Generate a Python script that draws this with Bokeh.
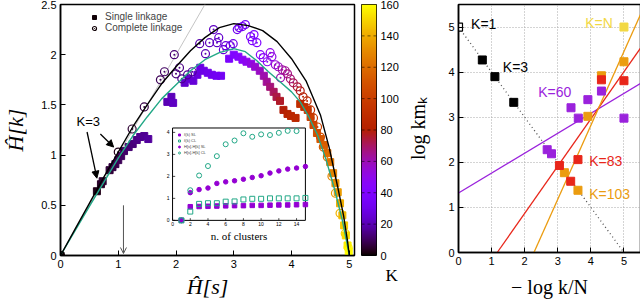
import math
import numpy as np
from bokeh.plotting import figure
from bokeh.layouts import row
from bokeh.models import (ColumnDataSource, LinearColorMapper, FixedTicker, Range1d, Label,
                          Arrow, NormalHead, OpenHead, Legend, NumeralTickFormatter, Title)
from bokeh.core.properties import value
from bokeh.transform import transform
from bokeh.embed import file_html
from bokeh.resources import INLINE

# ---------------- main panel data ----------------
# single linkage (filled squares): H[s], H[k], K
sl_hs = [0.00, 0.63, 0.70, 0.73, 0.85, 0.90, 0.95, 1.00, 1.05, 1.10, 1.18, 1.25, 1.32, 1.38,
         1.45, 1.52, 1.85, 1.92, 1.95, 2.15, 2.22, 2.30, 2.37, 2.42, 2.48, 2.55, 2.62, 2.70,
         2.78, 2.92, 3.00, 3.08, 3.15, 3.22, 3.30, 3.37, 3.45, 3.52, 3.57, 3.63, 3.69, 3.74,
         3.80, 3.86, 3.93, 3.99, 4.07, 4.15, 4.22, 4.28, 4.33, 4.38, 4.44, 4.50, 4.56, 4.62,
         4.67, 4.72, 4.76, 4.80, 4.84, 4.88, 4.91, 4.94, 4.97, 4.99]
sl_hk = [0.00, 0.64, 0.71, 0.74, 0.85, 0.88, 0.91, 0.95, 0.99, 1.04, 1.08, 1.11, 1.15, 1.18,
         1.19, 1.16, 1.53, 1.58, 1.52, 1.72, 1.76, 1.74, 1.80, 1.87, 1.84, 1.82, 1.80, 1.79,
         1.79, 1.96, 2.00, 1.98, 1.95, 1.93, 1.91, 1.88, 1.84, 1.79, 1.73, 1.68, 1.63, 1.58,
         1.54, 1.45, 1.41, 1.39, 1.37, 1.51, 1.48, 1.45, 1.38, 1.30, 1.22, 1.16, 1.10, 1.02,
         0.93, 0.82, 0.72, 0.63, 0.52, 0.40, 0.30, 0.20, 0.10, 0.04]
sl_K = [1, 3, 4, 5, 6, 7, 8, 9, 10, 11, 12, 13, 14, 15,
        16, 17, 20, 21, 22, 24, 25, 26, 27, 28, 29, 30, 31, 32,
        33, 38, 40, 43, 46, 49, 52, 55, 58, 61, 64, 67, 70, 73,
        76, 79, 82, 85, 87, 90, 93, 96, 100, 104, 108, 112, 116, 120,
        124, 128, 132, 136, 140, 144, 148, 152, 156, 159]

# complete linkage (open circles)
cl_hs = [0.00, 1.00, 1.24, 1.45, 1.73, 1.80, 1.97, 2.00, 2.06, 2.10, 2.20, 2.28, 2.41, 2.51,
         2.58, 2.65, 2.71, 2.74, 2.82, 2.86, 2.94, 2.99, 3.06, 3.09, 3.15, 3.20, 3.29, 3.32,
         3.35, 3.40, 3.46, 3.51, 3.58, 3.63, 3.66, 3.72, 3.77, 3.81, 3.84, 3.89, 3.93, 3.98,
         4.03, 4.10, 4.15, 4.20, 4.27, 4.33, 4.38, 4.45, 4.50, 4.55, 4.62, 4.70, 4.76, 4.84,
         4.93, 4.98]
cl_hk = [0.00, 1.03, 1.26, 1.48, 1.75, 1.83, 2.00, 1.81, 1.87, 1.76, 1.80, 1.83, 2.11, 2.01,
         2.12, 2.25, 2.12, 2.17, 2.05, 2.09, 2.09, 2.11, 2.25, 2.27, 2.28, 2.30, 2.18, 2.14,
         2.20, 2.12, 2.00, 1.97, 1.93, 2.02, 1.98, 1.90, 1.88, 1.77, 1.85, 1.84, 1.81, 1.76,
         1.72, 1.68, 1.64, 1.58, 1.54, 1.45, 1.37, 1.28, 1.18, 1.08, 0.98, 0.79, 0.62, 0.42,
         0.22, 0.08]
cl_K = [1, 3, 5, 7, 9, 10, 12, 13, 14, 15, 16, 17, 19, 20,
        21, 22, 23, 24, 26, 27, 28, 29, 31, 32, 33, 34, 36, 37,
        38, 40, 44, 46, 48, 50, 52, 55, 58, 60, 62, 64, 66, 68,
        71, 74, 78, 82, 86, 92, 97, 103, 108, 113, 120, 128, 135, 142,
        150, 157]

# upper (black) and lower (teal) curves
upper_hs = [0.00, 0.25, 0.50, 0.75, 1.00, 1.25, 1.50, 1.75, 2.00, 2.25, 2.50, 2.75, 3.00,
            3.25, 3.50, 3.75, 4.00, 4.25, 4.50, 4.65, 4.80, 4.90, 4.97, 5.00]
upper_hk = [0.00, 0.26, 0.52, 0.78, 1.03, 1.28, 1.50, 1.71, 1.88, 2.04, 2.17, 2.27, 2.31,
            2.29, 2.24, 2.13, 1.96, 1.74, 1.40, 1.08, 0.68, 0.40, 0.14, 0.00]
lower_hs = [0.00, 0.50, 1.00, 1.25, 1.50, 1.75, 2.00, 2.25, 2.50, 2.75, 3.00, 3.20, 3.40,
            3.60, 3.80, 4.00, 4.15, 4.30, 4.45, 4.60, 4.75, 4.88, 4.96, 5.00]
lower_hk = [0.00, 0.49, 0.97, 1.19, 1.38, 1.56, 1.70, 1.84, 1.95, 2.02, 2.06, 2.03, 1.94,
            1.83, 1.73, 1.63, 1.53, 1.38, 1.20, 0.95, 0.65, 0.35, 0.12, 0.00]
diag_hs = [0.0, 2.5]
diag_hk = [0.0, 2.5]

main_xticks = [0, 1, 2, 3, 4, 5]
main_yticks = [0, 0.5, 1, 1.5, 2, 2.5]
cbar_ticks = [0, 20, 40, 60, 80, 100, 120, 140, 160]

# ---------------- inset data ----------------
n_clusters = [1, 2, 3, 4, 5, 6, 7, 8, 9, 10, 11, 12, 13, 14, 15]
ell_sl = [0.00, 0.62, 0.63, 0.64, 0.65, 0.66, 0.67, 0.67, 0.68, 0.68, 0.69, 0.70, 0.70, 0.71, 0.72]
ell_cl = [0.00, 0.40, 0.75, 0.78, 0.78, 0.85, 0.86, 0.95, 0.98, 0.98, 1.00, 1.00, 1.00, 1.00, 1.02]
dh_sl = [0.00, 1.26, 1.40, 1.47, 1.68, 1.75, 1.80, 1.87, 1.95, 2.03, 2.15, 2.25, 2.33, 2.38, 2.45]
dh_cl = [0.00, 1.37, 2.04, 2.47, 2.92, 3.46, 3.63, 3.96, 3.80, 3.91, 3.88, 3.98, 4.07, 4.06]
inset_xticks = [0, 2, 4, 6, 8, 10, 12, 14]
inset_yticks = [0, 1, 2, 3, 4]

# ---------------- right panel data ----------------
k1_x = [0.0]
k1_y = [5.0]
black_x = [0.72, 1.10, 1.67]
black_y = [4.27, 3.90, 3.33]
purple_x = [2.68, 2.81, 3.40, 3.62, 3.91, 4.32, 5.00]
purple_y = [2.28, 2.19, 3.21, 2.98, 3.39, 3.58, 2.98]
orange_x = [3.20, 3.61, 3.91, 4.32, 5.00]
orange_y = [1.77, 1.38, 3.02, 3.92, 4.23]
red_x = [3.05, 3.39, 3.61, 4.32, 5.00]
red_y = [1.93, 1.58, 2.06, 3.83, 3.81]
yellow_x = [5.00]
yellow_y = [5.00]
guide_x = [0.0, 5.0]
guide_y = [5.0, 0.0]
fit60_x = [0.0, 5.5]
fit60_y = [1.32, 3.75]
fit83_x = [1.17, 5.5]
fit83_y = [0.0, 4.53]
fit103_x = [2.28, 5.5]
fit103_y = [0.0, 5.28]
right_ticks = [0, 1, 2, 3, 4, 5]


def rgbformulae_7_5_15(n=256):
    cols = []
    for i in range(n):
        t = i / (n - 1)
        r = math.sqrt(t)
        g = t ** 3
        b = max(0.0, math.sin(2 * math.pi * t))
        cols.append("#%02x%02x%02x" % (round(255 * r), round(255 * g), round(255 * b)))
    return cols


PAL = rgbformulae_7_5_15()
mapper = LinearColorMapper(palette=PAL, low=cbar_ticks[0], high=cbar_ticks[-1])

SANS = "Liberation Sans"
SERIF = "Liberation Serif"
TEAL = "#22a887"
VIOLET = "#9400d3"
C_PURPLE = "#9a22dc"
C_RED = "#e8261a"
C_ORANGE = "#eb9c10"
C_YELLOW = "#f2d844"


def style_axes(fig):
    fig.xgrid.visible = False
    fig.ygrid.visible = False
    fig.outline_line_color = "black"
    fig.outline_line_width = 1.5
    for ax in (fig.xaxis[0], fig.yaxis[0]):
        ax.axis_line_color = "black"
        ax.axis_line_width = 1.5
        ax.major_tick_in = 5
        ax.major_tick_out = 0
        ax.major_tick_line_color = "black"
        ax.minor_tick_line_color = None
        ax.major_label_text_font = SANS
        ax.major_label_text_font_size = "11px"
        ax.major_label_text_color = "black"
        ax.major_label_standoff = 4
        ax.axis_label_text_font = SERIF
        ax.axis_label_text_font_size = "20px"
        ax.axis_label_text_color = "black"
        ax.axis_label_text_font_style = "normal"


# ================= main figure =================
XMAX = 5.09
YMAX = 2.5
p = figure(frame_width=294, frame_height=251, x_range=Range1d(0, XMAX), y_range=Range1d(0, YMAX),
           output_backend="svg", toolbar_location=None,
           min_border_left=60, min_border_right=2, min_border_top=4, min_border_bottom=48)
style_axes(p)
p.xaxis.ticker = FixedTicker(ticks=main_xticks)
p.yaxis.ticker = FixedTicker(ticks=main_yticks)
p.yaxis.formatter = NumeralTickFormatter(format="0.[0]")
p.yaxis.axis_label = "Ĥ[k]"
p.yaxis.axis_label_text_font_style = "italic"
p.yaxis.axis_label_text_font_size = "22px"
p.yaxis.axis_label_standoff = 10
p.add_layout(Title(text="Ĥ[s]", align="center", offset=24, text_font=SERIF,
                   text_font_style="italic", text_font_size="22px", text_color="black",
                   standoff=2), "below")

p.line(diag_hs, diag_hk, line_color="#c4c4c4", line_width=1)

sl_src = ColumnDataSource(dict(x=sl_hs, y=sl_hk, K=sl_K))
cl_src = ColumnDataSource(dict(x=cl_hs, y=cl_hk, K=cl_K))
sl_r = p.scatter("x", "y", source=sl_src, marker="square", size=7,
                 fill_color=transform("K", mapper), line_color=transform("K", mapper))
cl_r = p.scatter("x", "y", source=cl_src, marker="circle_dot", size=8, fill_color=None,
                 line_color=transform("K", mapper), line_width=1.2)

p.line(lower_hs, lower_hk, line_color=TEAL, line_width=1.4)
p.line(upper_hs, upper_hk, line_color="black", line_width=1.4)

# annotations
p.add_layout(Label(x=0.48, y=1.33, text="K=3", text_font=SANS, text_font_size="13px",
                   text_align="center", text_baseline="middle", text_color="black"))
p.add_layout(Arrow(end=NormalHead(size=7, fill_color="black", line_color="black"),
                   x_start=0.46, y_start=1.23, x_end=0.63, y_end=0.77, line_width=1.3))
p.add_layout(Arrow(end=NormalHead(size=7, fill_color="black", line_color="black"),
                   x_start=0.69, y_start=1.21, x_end=0.92, y_end=1.08, line_width=1.3))
p.add_layout(Arrow(end=OpenHead(size=6, line_color="#555555", line_width=1),
                   x_start=1.09, y_start=0.5, x_end=1.09, y_end=0.02,
                   line_color="#555555", line_width=1))

main_leg = Legend(items=[("Single linkage", [sl_r]), ("Complete linkage", [cl_r])],
                  location=(28, 222), label_text_font=SANS, label_text_font_size="10px",
                  label_height=10, glyph_height=10, glyph_width=12, spacing=0, padding=2,
                  margin=0, border_line_color=None, background_fill_alpha=0)
p.add_layout(main_leg)

# ---- inset, drawn through its own ranges ----
IN_X0, IN_X1 = 0.0, 15.0
IN_Y0, IN_Y1 = 0.0, 4.2
BOX_L, BOX_R, BOX_B, BOX_T = 1.94, 4.24, 0.35, 1.27   # placement in main-panel units
sx = (IN_X1 - IN_X0) / (BOX_R - BOX_L)
sy = (IN_Y1 - IN_Y0) / (BOX_T - BOX_B)
p.extra_x_ranges = {"ix": Range1d(IN_X0 - BOX_L * sx, IN_X0 + (XMAX - BOX_L) * sx)}
p.extra_y_ranges = {"iy": Range1d(IN_Y0 - BOX_B * sy, IN_Y0 + (YMAX - BOX_B) * sy)}
IR = dict(x_range_name="ix", y_range_name="iy")

p.quad(left=[IN_X0 - 1.1], right=[IN_X1 + 0.3], bottom=[IN_Y0 - 1.25], top=[IN_Y1 + 0.15],
       fill_color="white", line_color=None, **IR)
p.quad(left=[IN_X0], right=[IN_X1], bottom=[IN_Y0], top=[IN_Y1], fill_color=None,
       line_color="black", line_width=1, **IR)
p.segment(x0=inset_xticks, y0=[IN_Y0] * len(inset_xticks), x1=inset_xticks,
          y1=[IN_Y0 + 0.1] * len(inset_xticks), line_color="black", line_width=0.7, **IR)
p.segment(x0=[IN_X0] * len(inset_yticks), y0=inset_yticks, x1=[IN_X0 + 0.3] * len(inset_yticks),
          y1=inset_yticks, line_color="black", line_width=0.7, **IR)
p.text(x=inset_xticks, y=[IN_Y0 - 0.08] * len(inset_xticks), text=[str(t) for t in inset_xticks],
       text_font=value(SANS), text_font_size="5px", text_align="center", text_baseline="top",
       text_color="black", **IR)
p.text(x=[IN_X0 - 0.35] * len(inset_yticks), y=inset_yticks, text=[str(t) for t in inset_yticks],
       text_font=value(SANS), text_font_size="5px", text_align="right", text_baseline="middle",
       text_color="black", **IR)
p.add_layout(Label(x=7.5, y=-0.42, text="n. of clusters", text_font=SERIF, text_font_size="11px",
                   text_align="center", text_baseline="top", text_color="black", **IR))

r_ell_sl = p.scatter(n_clusters, ell_sl, marker="square", size=4.5, fill_color=VIOLET,
                     line_color=VIOLET, **IR)
r_ell_cl = p.scatter(n_clusters, ell_cl, marker="square", size=5, fill_color=None,
                     line_color=TEAL, line_width=1, **IR)
r_dh_sl = p.scatter(n_clusters, dh_sl, marker="circle", size=4.5, fill_color=VIOLET,
                    line_color=VIOLET, **IR)
r_dh_cl = p.scatter(n_clusters[:len(dh_cl)], dh_cl, marker="circle", size=5, fill_color=None,
                    line_color=TEAL, line_width=1, **IR)
inset_leg = Legend(items=[("ℓ(k) SL", [r_ell_sl]), ("ℓ(k) CL", [r_ell_cl]),
                          ("H[s]-H[k] SL", [r_dh_sl]), ("H[s]-H[k] CL", [r_dh_cl])],
                   location=(116, 100), label_text_font=SANS, label_text_font_size="4px",
                   label_height=5, glyph_height=5, glyph_width=6, spacing=1, padding=1,
                   margin=0, label_standoff=2, border_line_color=None, background_fill_alpha=0)
p.add_layout(inset_leg)

# ================= colour bar (own small figure) =================
c = figure(frame_width=15, frame_height=251, x_range=Range1d(0, 1),
           y_range=Range1d(cbar_ticks[0], cbar_ticks[-1]), x_axis_location=None,
           y_axis_location="right", output_backend="svg", toolbar_location=None,
           min_border_left=5, min_border_right=24, min_border_top=4, min_border_bottom=48)
c.grid.visible = False
c.outline_line_color = "black"
c.outline_line_width = 1
grad = np.linspace(cbar_ticks[0], cbar_ticks[-1], 256).reshape(256, 1)
c.image(image=[grad], x=0, y=cbar_ticks[0], dw=1, dh=cbar_ticks[-1] - cbar_ticks[0],
        color_mapper=mapper)
c.segment(x0=[0] * (len(cbar_ticks) - 2), y0=cbar_ticks[1:-1], x1=[1] * (len(cbar_ticks) - 2),
          y1=cbar_ticks[1:-1], line_color="black", line_alpha=0.55, line_dash="3 3", line_width=1)
cy = c.yaxis[0]
cy.ticker = FixedTicker(ticks=cbar_ticks)
cy.axis_line_color = None
cy.major_tick_in = 0
cy.major_tick_out = 0
cy.minor_tick_line_color = None
cy.major_label_text_font = SANS
cy.major_label_text_font_size = "11px"
cy.major_label_text_color = "black"
cy.major_label_standoff = 4
c.add_layout(Title(text="K", align="left", offset=24, text_font=SERIF, text_font_size="17px",
                   text_font_style="normal", text_color="black", standoff=16), "below")

# ================= right figure =================
q = figure(frame_width=182, frame_height=248, x_range=Range1d(0, 5.5), y_range=Range1d(0, 5.5),
           output_backend="svg", toolbar_location=None,
           min_border_left=57, min_border_right=1, min_border_top=4, min_border_bottom=51)
style_axes(q)
q.xgrid.visible = True
q.ygrid.visible = True
q.grid.grid_line_color = "#a8a8a8"
q.grid.grid_line_dash = "1 2"
q.grid.grid_line_width = 1
q.xaxis.ticker = FixedTicker(ticks=right_ticks)
q.yaxis.ticker = FixedTicker(ticks=right_ticks)
q.xaxis.axis_label = "− log k/N"
q.yaxis.axis_label = "log kmₖ"
q.xaxis.axis_label_standoff = 8
q.yaxis.axis_label_standoff = 16

q.line(guide_x, guide_y, line_color="#555555", line_dash="1 3", line_width=1.3)
q.line(fit60_x, fit60_y, line_color=C_PURPLE, line_width=1.3)
q.line(fit83_x, fit83_y, line_color=C_RED, line_width=1.3)
q.line(fit103_x, fit103_y, line_color=C_ORANGE, line_width=1.3)

q.scatter(black_x, black_y, marker="square", size=8, color="black")
q.scatter(orange_x, orange_y, marker="square", size=8, color=C_ORANGE)
q.scatter(red_x, red_y, marker="square", size=8, color=C_RED)
q.scatter(purple_x, purple_y, marker="square", size=8, color=C_PURPLE)
q.scatter(yellow_x, yellow_y, marker="square", size=8, color=C_YELLOW)
q.scatter(k1_x, k1_y, marker="square", size=8, fill_color="white", line_color="black",
          line_width=1.2)

for tx, ty, tt, tc in [(0.38, 5.07, "K=1", "black"), (1.34, 4.12, "K=3", "black"),
                       (2.41, 3.57, "K=60", C_PURPLE), (3.83, 5.09, "K=N", C_YELLOW),
                       (3.95, 2.02, "K=83", C_RED), (3.95, 1.29, "K=103", C_ORANGE)]:
    q.add_layout(Label(x=tx, y=ty, text=tt, text_font=SANS, text_font_size="14px",
                       text_align="left", text_baseline="middle", text_color=tc))

layout = row(p, c, q)
open("out.html", "w").write(file_html(layout, INLINE))
